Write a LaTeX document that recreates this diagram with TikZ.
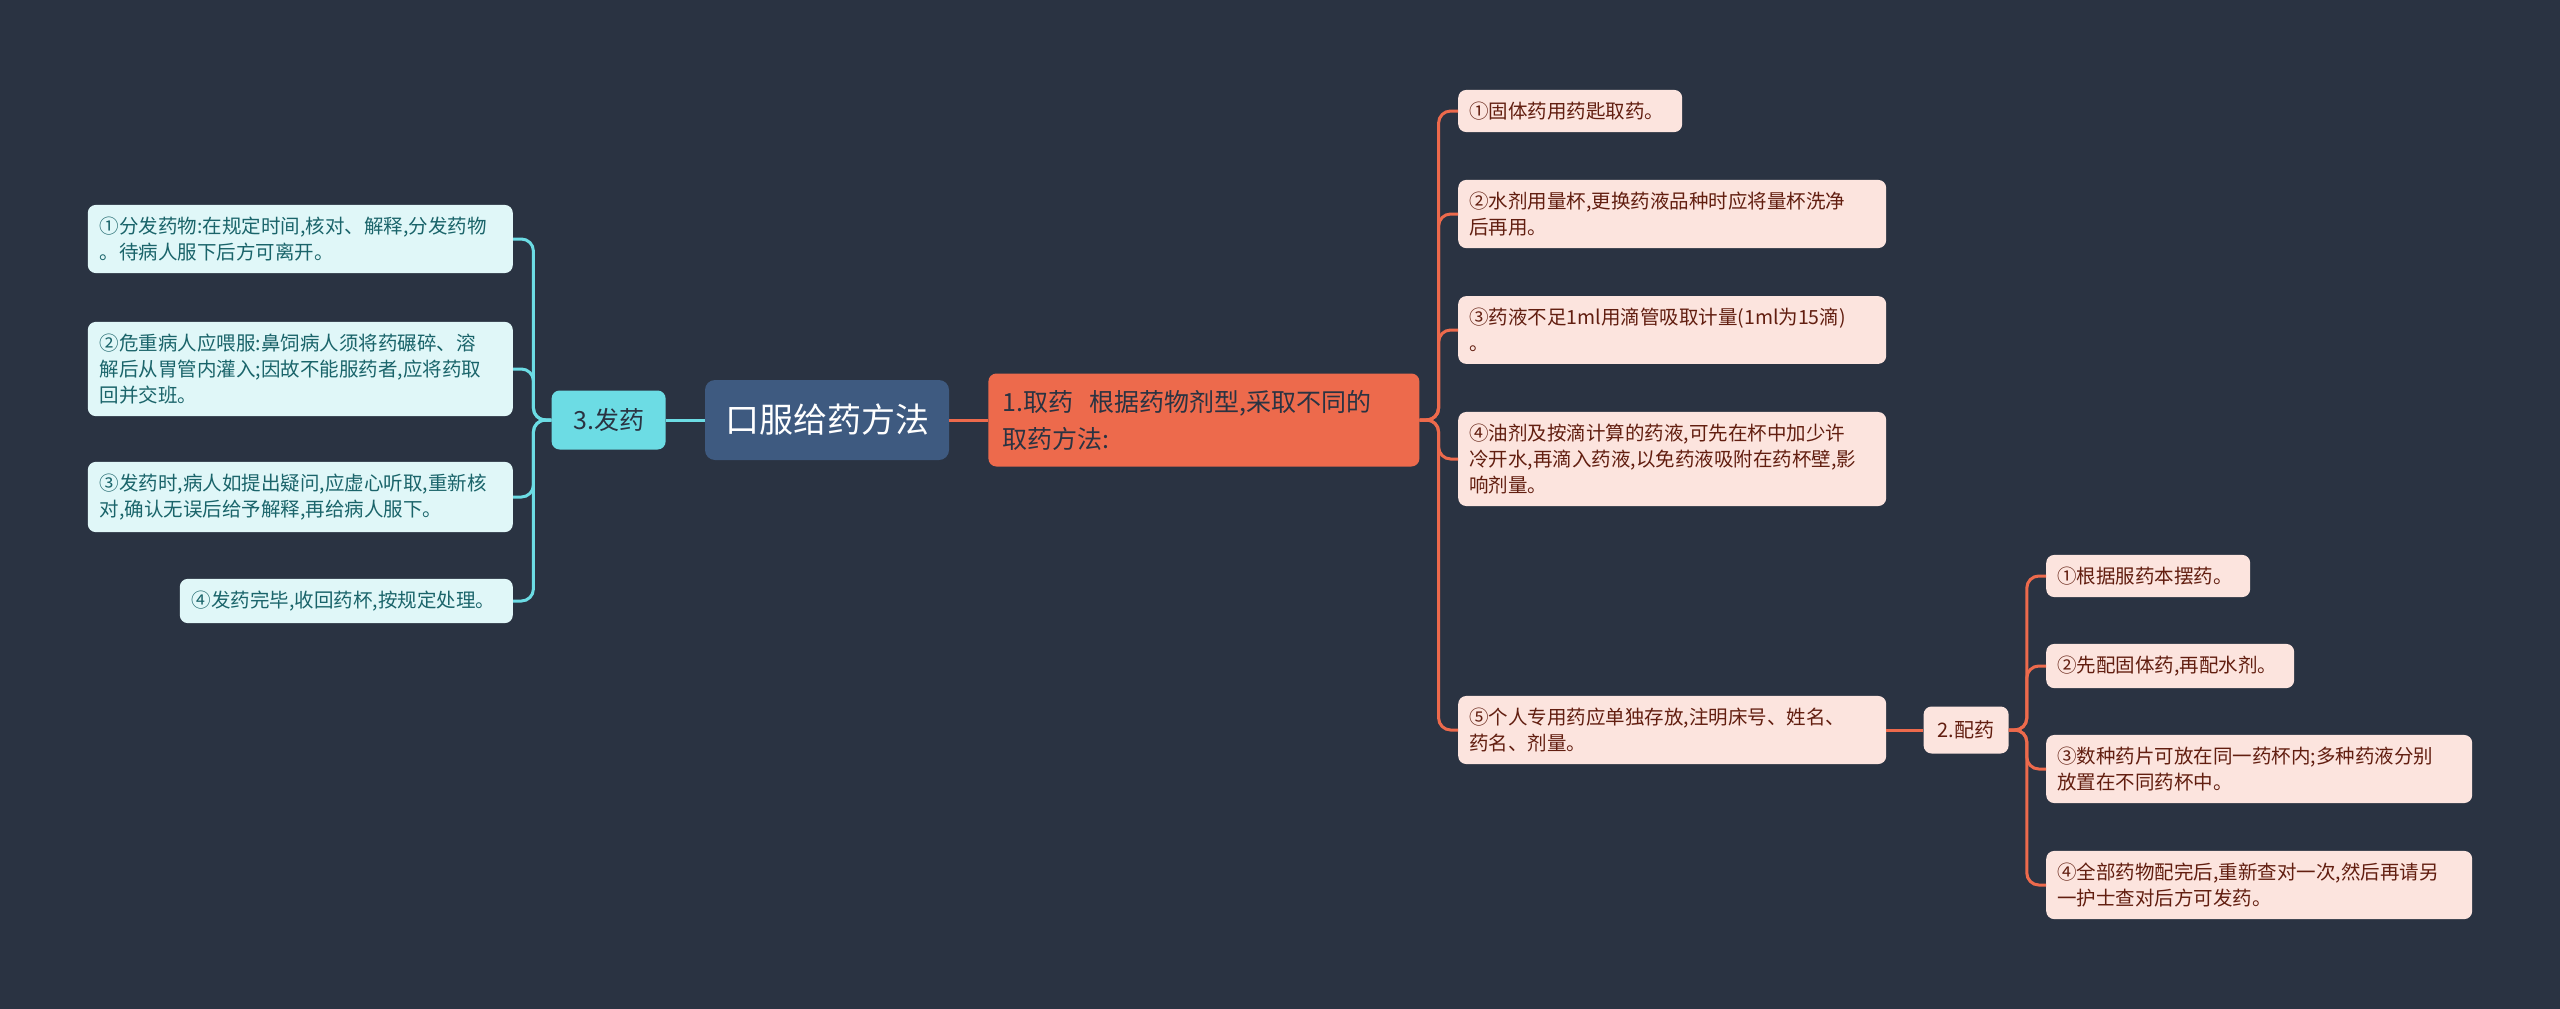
\documentclass[tikz,border=0pt]{standalone}
\usepackage{fontspec}
\setmainfont{Noto Sans CJK SC}
\usepackage{tikz}
\usetikzlibrary{positioning}
\definecolor{bgnavy}{RGB}{42, 51, 66}
\definecolor{rootblue}{RGB}{62, 90, 128}
\definecolor{cyanline}{RGB}{108, 220, 228}
\definecolor{cyanleaf}{RGB}{224, 247, 248}
\definecolor{tealtext}{RGB}{26, 100, 106}
\definecolor{coral}{RGB}{237, 106, 76}
\definecolor{pinkleaf}{RGB}{252, 228, 222}
\definecolor{browntext}{RGB}{98, 30, 16}

\begin{document}
\begin{tikzpicture}[x=1pt, y=-1pt,
  leafl/.style={fill=cyanleaf, text=tealtext, rounded corners=8pt, align=left,
        inner xsep=12pt, inner ysep=12pt, font=\fontsize{19.5}{26}\selectfont},
  leafr/.style={fill=pinkleaf, text=browntext, rounded corners=8pt, align=left,
        inner xsep=11pt, inner ysep=12pt, font=\fontsize{19.5}{26}\selectfont},
  linkl/.style={draw=cyanline, line width=3pt, rounded corners=12pt},
  linkr/.style={draw=coral, line width=3pt, rounded corners=12pt}]
  % background and page size
  \fill[bgnavy] (0,0) rectangle (2560,1009);
  \useasboundingbox (0,0) rectangle (2560,1009);

  % centre and the three main topics
  \node[fill=rootblue, rounded corners=10pt, minimum width=244pt, minimum height=80pt,
        text=white, font=\fontsize{34}{40}\selectfont] (root) at (827,420) {口服给药方法};
  \node[fill=cyanline, rounded corners=8pt, minimum width=114pt, minimum height=59pt,
        text=bgnavy, font=\fontsize{25}{30}\selectfont, left=39pt of root] (fa) {3.发药};
  \node[fill=coral, rounded corners=8pt, minimum height=93pt, text width=403pt, align=left,
        inner xsep=14pt, text=bgnavy, font=\fontsize{25}{37}\selectfont, right=39pt of root] (qu)
        {1.取药\ \ 根据药物剂型,采取不同的\\取药方法:};

  % 3.发药
  \node[leafl, text width=401pt, anchor=east] (l1) at (513,239)
        {①分发药物:在规定时间,核对、解释,分发药物\\。待病人服下后方可离开。};
  \node[leafl, text width=401pt, anchor=east] (l2) at (513,369)
        {②危重病人应喂服:鼻饲病人须将药碾碎、溶\\解后从胃管内灌入;因故不能服药者,应将药取\\回并交班。};
  \node[leafl, text width=401pt, anchor=east] (l3) at (513,497)
        {③发药时,病人如提出疑问,应虚心听取,重新核\\对,确认无误后给予解释,再给病人服下。};
  \node[leafl, text width=309pt, anchor=east] (l4) at (513,601)
        {④发药完毕,收回药杯,按规定处理。};

  % 1.取药
  \node[leafr, text width=202pt, anchor=west] (r1) at (1458,111)
        {①固体药用药匙取药。};
  \node[leafr, text width=406pt, anchor=west] (r2) at (1458,214)
        {②水剂用量杯,更换药液品种时应将量杯洗净\\后再用。};
  \node[leafr, text width=406pt, anchor=west] (r3) at (1458,330)
        {③药液不足1ml用滴管吸取计量(1ml为15滴)\\。};
  \node[leafr, text width=406pt, anchor=west] (r4) at (1458,459)
        {④油剂及按滴计算的药液,可先在杯中加少许\\冷开水,再滴入药液,以免药液吸附在药杯壁,影\\响剂量。};
  \node[leafr, text width=406pt, anchor=west] (r5) at (1458,730)
        {⑤个人专用药应单独存放,注明床号、姓名、\\药名、剂量。};

  % 2.配药
  \node[fill=pinkleaf, rounded corners=8pt, minimum width=85pt, minimum height=47pt,
        text=browntext, font=\fontsize{20}{24}\selectfont, right=37pt of r5] (pei) {2.配药};
  \node[leafr, text width=182pt, anchor=west] (p1) at (2046,576)
        {①根据服药本摆药。};
  \node[leafr, text width=226pt, anchor=west] (p2) at (2046,666)
        {②先配固体药,再配水剂。};
  \node[leafr, text width=404pt, anchor=west] (p3) at (2046,769)
        {③数种药片可放在同一药杯内;多种药液分别\\放置在不同药杯中。};
  \node[leafr, text width=404pt, anchor=west] (p4) at (2046,885)
        {④全部药物配完后,重新查对一次,然后再请另\\一护士查对后方可发药。};

  % connectors
  \draw[linkl] (root) -- (fa);
  \draw[linkr] (root) -- (qu);
  \foreach \leaf in {l1,l2,l3,l4}
    \draw[linkl] (fa.west) -- ++(-18,0) |- (\leaf.east);
  \foreach \leaf in {r1,r2,r3,r4,r5}
    \draw[linkr] (qu.east) -- ++(19,0) |- (\leaf.west);
  \draw[linkr] (r5) -- (pei);
  \foreach \leaf in {p1,p2,p3,p4}
    \draw[linkr] (pei.east) -- ++(18,0) |- (\leaf.west);
\end{tikzpicture}
\end{document}
